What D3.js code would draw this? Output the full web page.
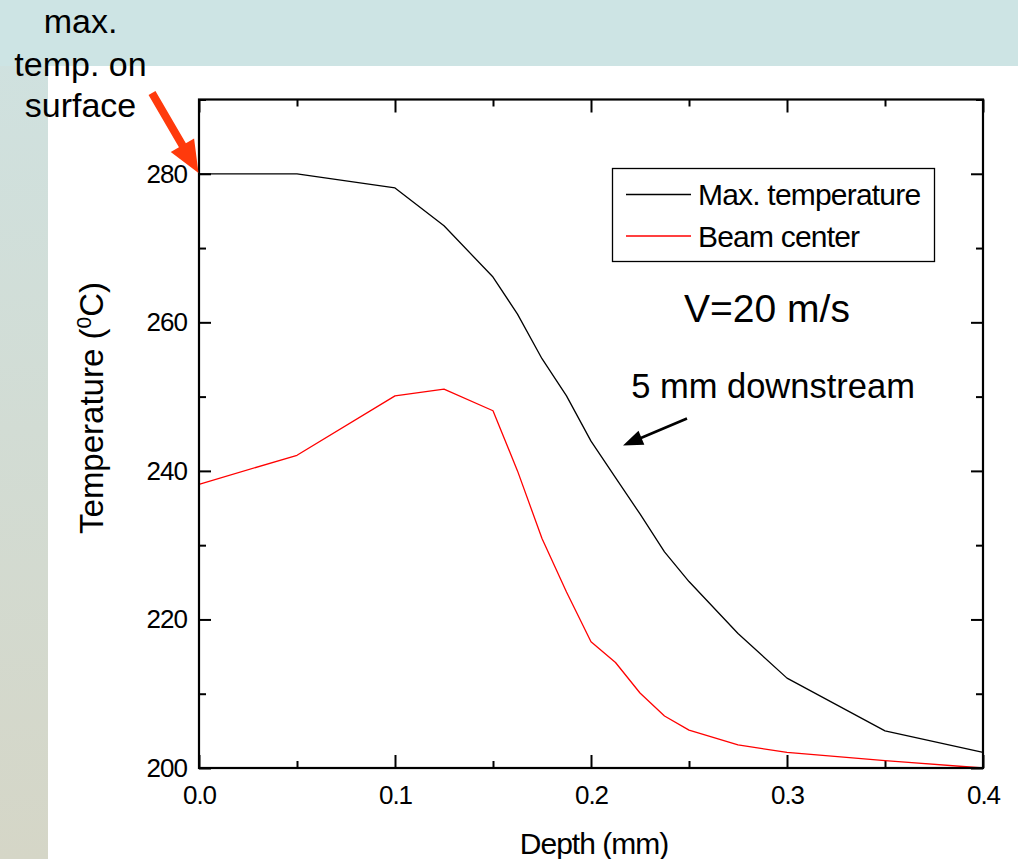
<!DOCTYPE html>
<html>
<head>
<meta charset="utf-8">
<script src="https://cdn.jsdelivr.net/npm/d3@7"></script>
<style>
  html, body { margin: 0; padding: 0; background: #ffffff; }
  svg { display: block; font-family: "Liberation Sans", Arial, sans-serif; }
</style>
</head>
<body>
<svg id="chart" width="1018" height="859"></svg>
<script>
// Depth below the surface (mm)
const depth = [0, 0.05, 0.1, 0.125, 0.15, 0.1625, 0.175, 0.1875, 0.2, 0.2125, 0.225, 0.2375, 0.25, 0.275, 0.3, 0.35, 0.4];
// Maximum temperature at each depth (°C)
const maxTemp = [280, 280, 278.1, 273.0, 266.1, 261.1, 255.1, 250.1, 244.0, 239.1, 234.2, 229.1, 225.1, 218.1, 212.1, 205.0, 202.1];
// Temperature at the beam center (°C)
const beamCenter = [238.2, 242.1, 250.1, 251.0, 248.1, 240.0, 230.9, 223.7, 217.0, 214.2, 210.1, 207.0, 205.1, 203.1, 202.1, 201.0, 200.0];

const seriesNames = ["Max. temperature", "Beam center"];
const seriesColors = ["#000000", "#ff0000"];
const xTicks = [0, 0.1, 0.2, 0.3, 0.4];
const xMinorTicks = [0.05, 0.15, 0.25, 0.35];
const yTicks = [200, 220, 240, 260, 280];
const yMinorTicks = [210, 230, 250, 270, 290];

const svg = d3.select("#chart");
const W = 1018, H = 859;

// Slide-style backdrop: teal band across the top, tinted strip down the left
const defs = svg.append("defs");
const grad = defs.append("linearGradient").attr("id", "strip").attr("x1", 0).attr("y1", 0).attr("x2", 0).attr("y2", 1);
grad.append("stop").attr("offset", "0%").attr("stop-color", "#cfe2e1");
grad.append("stop").attr("offset", "100%").attr("stop-color", "#d5d6c7");
svg.append("rect").attr("x", 0).attr("y", 0).attr("width", 48).attr("height", H).attr("fill", "url(#strip)");
svg.append("rect").attr("x", 0).attr("y", 0).attr("width", W).attr("height", 66).attr("fill", "#cde4e4");

const plot = { left: 199, right: 983, top: 99.5, bottom: 768 };
const x = d3.scaleLinear().domain([0, 0.4]).range([plot.left, plot.right]);
const y = d3.scaleLinear().domain([200, 290]).range([plot.bottom, plot.top]);

// Axes with inward ticks on all four sides
function styleAxis(g) {
  g.selectAll(".domain").remove();
  g.selectAll(".tick line").attr("stroke", "#000").attr("stroke-width", 2);
  g.selectAll(".tick text").attr("fill", "#000").attr("font-size", 26)
    .attr("font-family", "'Liberation Sans', Arial, sans-serif").attr("letter-spacing", -1);
}
svg.append("g").attr("transform", `translate(0,${plot.bottom})`)
  .call(d3.axisBottom(x).tickValues(xTicks).tickSize(-13).tickPadding(18).tickFormat(d3.format(".1f")))
  .call(styleAxis);
svg.append("g").attr("transform", `translate(0,${plot.bottom})`)
  .call(d3.axisBottom(x).tickValues(xMinorTicks).tickSize(-7).tickFormat(""))
  .call(styleAxis);
svg.append("g").attr("transform", `translate(0,${plot.top})`)
  .call(d3.axisTop(x).tickValues(xTicks).tickSize(-13).tickFormat(""))
  .call(styleAxis);
svg.append("g").attr("transform", `translate(0,${plot.top})`)
  .call(d3.axisTop(x).tickValues(xMinorTicks).tickSize(-7).tickFormat(""))
  .call(styleAxis);
svg.append("g").attr("transform", `translate(${plot.left},0)`)
  .call(d3.axisLeft(y).tickValues(yTicks).tickSize(-12).tickPadding(12).tickFormat(d3.format("d")))
  .call(styleAxis);
svg.append("g").attr("transform", `translate(${plot.left},0)`)
  .call(d3.axisLeft(y).tickValues(yMinorTicks).tickSize(-7).tickFormat(""))
  .call(styleAxis);
svg.append("g").attr("transform", `translate(${plot.right},0)`)
  .call(d3.axisRight(y).tickValues(yTicks).tickSize(-12).tickFormat(""))
  .call(styleAxis);
svg.append("g").attr("transform", `translate(${plot.right},0)`)
  .call(d3.axisRight(y).tickValues(yMinorTicks).tickSize(-7).tickFormat(""))
  .call(styleAxis);

// Data curves
const line = d3.line().x((d, i) => x(depth[i])).y(d => y(d));
[maxTemp, beamCenter].forEach((s, k) => {
  svg.append("path").datum(s).attr("d", line)
    .attr("fill", "none").attr("stroke", seriesColors[k]).attr("stroke-width", 1.3)
    .attr("stroke-linejoin", "round");
});

// Plot frame
svg.append("rect").attr("x", plot.left).attr("y", plot.top)
  .attr("width", plot.right - plot.left).attr("height", plot.bottom - plot.top)
  .attr("fill", "none").attr("stroke", "#000").attr("stroke-width", 2.2);

// Axis titles
svg.append("text").attr("x", 594).attr("y", 854).attr("text-anchor", "middle")
  .attr("font-size", 30).attr("letter-spacing", -1).text("Depth (mm)");
const yt = svg.append("text").attr("transform", "translate(103,408) rotate(-90)")
  .attr("text-anchor", "middle").attr("font-size", 33);
yt.append("tspan").text("Temperature (");
yt.append("tspan").attr("font-size", 21).attr("dy", -12).text("0");
yt.append("tspan").attr("dy", 12).text("C)");

// Legend
const lg = svg.append("g");
lg.append("rect").attr("x", 612.5).attr("y", 168.5).attr("width", 322).attr("height", 93)
  .attr("fill", "#fff").attr("stroke", "#000").attr("stroke-width", 1.3);
seriesNames.forEach((n, k) => {
  const ly = 194.5 + k * 41.5;
  lg.append("line").attr("x1", 626).attr("x2", 691).attr("y1", ly).attr("y2", ly)
    .attr("stroke", seriesColors[k]).attr("stroke-width", 1.3);
  lg.append("text").attr("x", 698).attr("y", ly + 10.5).attr("font-size", 30)
    .attr("letter-spacing", -0.8).text(n);
});

// Annotations
svg.append("text").attr("x", 767).attr("y", 322).attr("text-anchor", "middle")
  .attr("font-size", 39).text("V=20 m/s");
svg.append("text").attr("x", 773).attr("y", 398).attr("text-anchor", "middle")
  .attr("font-size", 34.5).text("5 mm downstream");

const note = svg.append("text").attr("text-anchor", "middle").attr("font-size", 34);
[["max.", 33], ["temp. on", 76], ["surface", 117]].forEach(([t, yy]) => {
  note.append("tspan").attr("x", 80.5).attr("y", yy).text(t);
});

// Arrow helper: polygon from tail to tip
function arrow(x0, y0, x1, y1, shaftW, headL, headW, color) {
  const dx = x1 - x0, dy = y1 - y0, L = Math.hypot(dx, dy);
  const ux = dx / L, uy = dy / L, nx = -uy, ny = ux;
  const bx = x1 - ux * headL, by = y1 - uy * headL;
  const pts = [
    [x0 + nx * shaftW / 2, y0 + ny * shaftW / 2],
    [bx + nx * shaftW / 2, by + ny * shaftW / 2],
    [bx + nx * headW / 2, by + ny * headW / 2],
    [x1, y1],
    [bx - nx * headW / 2, by - ny * headW / 2],
    [bx - nx * shaftW / 2, by - ny * shaftW / 2],
    [x0 - nx * shaftW / 2, y0 - ny * shaftW / 2]
  ];
  svg.append("path").attr("d", "M" + pts.map(p => p.join(",")).join("L") + "Z").attr("fill", color);
}
arrow(152, 93, 198.5, 173, 8, 32, 27, "#ff3a0c");
arrow(687, 418.5, 623, 445.5, 2.6, 20, 15, "#000");
</script>
</body>
</html>
